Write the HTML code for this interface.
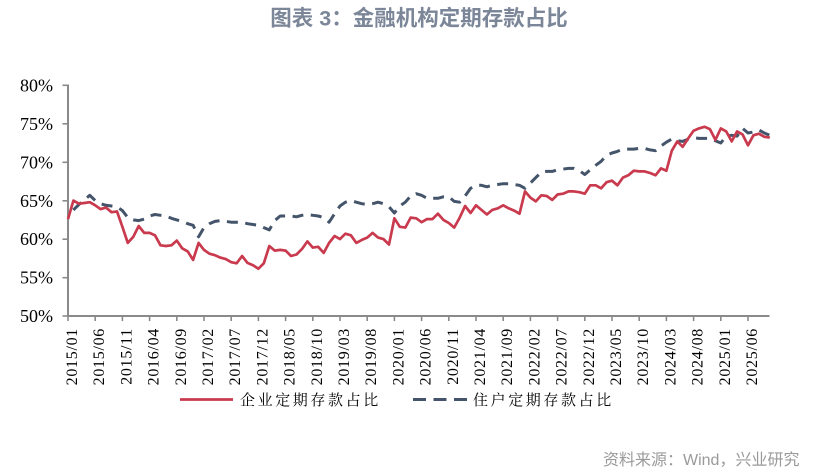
<!DOCTYPE html>
<html>
<head>
<meta charset="utf-8">
<style>
  html,body{margin:0;padding:0;background:#fff;}
  body{width:826px;height:472px;overflow:hidden;}
  svg{display:block;}
  .yl{font-family:"Liberation Serif","Noto Serif CJK SC",serif;font-size:18px;fill:#000;}
  .xl{font-family:"Liberation Serif","Noto Serif CJK SC",serif;font-size:16px;fill:#000;letter-spacing:0.7px;}
  .lg{font-family:"Liberation Serif","Noto Serif CJK SC",serif;font-size:15px;fill:#000;letter-spacing:2.6px;}
  .tt{font-family:"Liberation Sans","Noto Sans CJK SC",sans-serif;font-size:21.5px;font-weight:bold;fill:#7b8698;}
  .src{font-family:"Liberation Sans","Noto Sans CJK SC",sans-serif;font-size:16px;fill:#9a9a9a;}
</style>
</head>
<body>
<svg width="826" height="472" viewBox="0 0 826 472" xmlns="http://www.w3.org/2000/svg">
  <rect width="826" height="472" fill="#fff"/>
  <!-- title -->
  <text class="tt" x="419" y="25.5" text-anchor="middle">图表 3：金融机构定期存款占比</text>

  <!-- y axis -->
  <line x1="68" y1="84.5" x2="68" y2="317" stroke="#8a8a8a" stroke-width="2"/>
  <g stroke="#8a8a8a" stroke-width="1.6">
    <line x1="62.5" y1="85.3" x2="68" y2="85.3"/>
    <line x1="62.5" y1="123.8" x2="68" y2="123.8"/>
    <line x1="62.5" y1="162.3" x2="68" y2="162.3"/>
    <line x1="62.5" y1="200.8" x2="68" y2="200.8"/>
    <line x1="62.5" y1="239.2" x2="68" y2="239.2"/>
    <line x1="62.5" y1="277.7" x2="68" y2="277.7"/>
    <line x1="62.5" y1="316" x2="68" y2="316"/>
  </g>
  <g class="yl" text-anchor="end">
    <text x="53" y="91.3">80%</text>
    <text x="53" y="129.8">75%</text>
    <text x="53" y="168.3">70%</text>
    <text x="53" y="206.8">65%</text>
    <text x="53" y="245.2">60%</text>
    <text x="53" y="283.7">55%</text>
    <text x="53" y="322">50%</text>
  </g>

  <!-- x axis -->
  <line x1="67" y1="316" x2="769.5" y2="316" stroke="#8a8a8a" stroke-width="2"/>
  <g stroke="#8a8a8a" stroke-width="1.6">
    <line x1="68" y1="316" x2="68" y2="321"/>
    <line x1="95.2" y1="316" x2="95.2" y2="321"/>
    <line x1="122.4" y1="316" x2="122.4" y2="321"/>
    <line x1="149.6" y1="316" x2="149.6" y2="321"/>
    <line x1="176.8" y1="316" x2="176.8" y2="321"/>
    <line x1="204" y1="316" x2="204" y2="321"/>
    <line x1="231.2" y1="316" x2="231.2" y2="321"/>
    <line x1="258.4" y1="316" x2="258.4" y2="321"/>
    <line x1="285.6" y1="316" x2="285.6" y2="321"/>
    <line x1="312.8" y1="316" x2="312.8" y2="321"/>
    <line x1="340" y1="316" x2="340" y2="321"/>
    <line x1="367.2" y1="316" x2="367.2" y2="321"/>
    <line x1="394.4" y1="316" x2="394.4" y2="321"/>
    <line x1="421.6" y1="316" x2="421.6" y2="321"/>
    <line x1="448.8" y1="316" x2="448.8" y2="321"/>
    <line x1="476" y1="316" x2="476" y2="321"/>
    <line x1="503.2" y1="316" x2="503.2" y2="321"/>
    <line x1="530.4" y1="316" x2="530.4" y2="321"/>
    <line x1="557.6" y1="316" x2="557.6" y2="321"/>
    <line x1="584.8" y1="316" x2="584.8" y2="321"/>
    <line x1="612" y1="316" x2="612" y2="321"/>
    <line x1="639.2" y1="316" x2="639.2" y2="321"/>
    <line x1="666.4" y1="316" x2="666.4" y2="321"/>
    <line x1="693.6" y1="316" x2="693.6" y2="321"/>
    <line x1="720.8" y1="316" x2="720.8" y2="321"/>
    <line x1="748" y1="316" x2="748" y2="321"/>
  </g>
  <g class="xl" text-anchor="end">
    <text transform="translate(77,328) rotate(-90)">2015/01</text>
    <text transform="translate(104.2,328) rotate(-90)">2015/06</text>
    <text transform="translate(131.4,328) rotate(-90)">2015/11</text>
    <text transform="translate(158.6,328) rotate(-90)">2016/04</text>
    <text transform="translate(185.8,328) rotate(-90)">2016/09</text>
    <text transform="translate(213,328) rotate(-90)">2017/02</text>
    <text transform="translate(240.2,328) rotate(-90)">2017/07</text>
    <text transform="translate(267.4,328) rotate(-90)">2017/12</text>
    <text transform="translate(294.6,328) rotate(-90)">2018/05</text>
    <text transform="translate(321.8,328) rotate(-90)">2018/10</text>
    <text transform="translate(349,328) rotate(-90)">2019/03</text>
    <text transform="translate(376.2,328) rotate(-90)">2019/08</text>
    <text transform="translate(403.4,328) rotate(-90)">2020/01</text>
    <text transform="translate(430.6,328) rotate(-90)">2020/06</text>
    <text transform="translate(457.8,328) rotate(-90)">2020/11</text>
    <text transform="translate(485,328) rotate(-90)">2021/04</text>
    <text transform="translate(512.2,328) rotate(-90)">2021/09</text>
    <text transform="translate(539.4,328) rotate(-90)">2022/02</text>
    <text transform="translate(566.6,328) rotate(-90)">2022/07</text>
    <text transform="translate(593.8,328) rotate(-90)">2022/12</text>
    <text transform="translate(621,328) rotate(-90)">2023/05</text>
    <text transform="translate(648.2,328) rotate(-90)">2023/10</text>
    <text transform="translate(675.4,328) rotate(-90)">2024/03</text>
    <text transform="translate(702.6,328) rotate(-90)">2024/08</text>
    <text transform="translate(729.8,328) rotate(-90)">2025/01</text>
    <text transform="translate(757,328) rotate(-90)">2025/06</text>
  </g>

  <!-- household series (dashed) -->
  <polyline fill="none" stroke="#44546a" stroke-width="3" stroke-dasharray="11 7.5" stroke-dashoffset="11" stroke-linejoin="round"
    points="68,215.3 73.4,209.9 78.9,204.5 84.3,199.9 89.8,195.3 95.2,200.6 100.6,203.7 106.1,205.3 111.5,206.0 117.0,206.8 122.4,210.6 127.8,217.6 133.3,219.9 138.7,220.6 144.2,219.1 149.6,216.0 155.0,214.5 160.5,215.3 165.9,216.0 171.4,218.3 176.8,219.9 182.2,221.4 187.7,223.7 193.1,225.3 198.6,236.8 204.0,227.6 209.4,223.7 214.9,221.4 220.3,220.6 225.8,221.4 231.2,222.2 236.6,222.2 242.1,222.2 247.5,223.7 253.0,224.5 258.4,225.3 263.8,227.6 269.3,229.9 274.7,220.6 280.2,216.0 285.6,216.0 291.0,216.0 296.5,216.8 301.9,215.3 307.4,214.5 312.8,215.3 318.2,216.0 323.7,217.6 329.1,222.2 334.6,213.7 340.0,206.0 345.4,202.2 350.9,200.6 356.3,202.2 361.8,203.7 367.2,204.5 372.6,203.7 378.1,202.2 383.5,203.7 389.0,206.8 394.4,213.0 399.8,206.0 405.3,202.2 410.7,196.0 416.2,193.7 421.6,195.3 427.0,198.3 432.5,198.3 437.9,198.3 443.4,196.8 448.8,196.8 454.2,201.4 459.7,202.2 465.1,196.0 470.6,188.3 476.0,185.3 481.4,185.3 486.9,186.8 492.3,185.3 497.8,184.5 503.2,183.7 508.6,183.7 514.1,184.5 519.5,185.3 525.0,188.3 530.4,183.0 535.8,177.6 541.3,172.2 546.7,171.4 552.2,171.4 557.6,169.9 563.0,169.1 568.5,168.4 573.9,168.4 579.4,170.7 584.8,174.5 590.2,169.9 595.7,165.3 601.1,161.4 606.6,155.3 612.0,153.0 617.4,151.4 622.9,149.1 628.3,149.1 633.8,149.1 639.2,148.4 644.6,148.4 650.1,149.9 655.5,150.7 661.0,146.0 666.4,142.2 671.8,139.1 677.3,140.7 682.7,141.4 688.2,139.1 693.6,137.6 699.0,138.4 704.5,138.4 709.9,138.4 715.4,140.7 720.8,143.0 726.2,136.1 731.7,135.3 737.1,136.1 742.6,128.4 748.0,133.0 753.4,132.0 758.9,130.0 764.3,133.0 769.8,135.3"/>

  <!-- corporate series (solid) -->
  <polyline fill="none" stroke="#c93a4e" stroke-width="2.7" stroke-linejoin="round"
    points="68,219.1 73.4,200.6 78.9,203.7 84.3,203.0 89.8,202.2 95.2,205.3 100.6,209.1 106.1,207.6 111.5,212.2 117.0,211.4 122.4,226.8 127.8,242.9 133.3,236.8 138.7,226.0 144.2,232.9 149.6,232.9 155.0,235.3 160.5,245.3 165.9,246.0 171.4,245.3 176.8,240.6 182.2,248.3 187.7,251.4 193.1,259.9 198.6,242.9 204.0,249.9 209.4,253.7 214.9,255.2 220.3,257.6 225.8,259.1 231.2,262.2 236.6,263.3 242.1,256.0 247.5,262.9 253.0,265.2 258.4,268.7 263.8,263.3 269.3,246.0 274.7,250.6 280.2,249.9 285.6,250.6 291.0,256.0 296.5,254.5 301.9,249.1 307.4,241.4 312.8,247.6 318.2,246.8 323.7,252.9 329.1,242.9 334.6,236.0 340.0,239.1 345.4,233.7 350.9,235.3 356.3,242.9 361.8,239.9 367.2,237.6 372.6,232.9 378.1,237.6 383.5,239.1 389.0,244.5 394.4,218.3 399.8,226.8 405.3,227.6 410.7,217.6 416.2,218.3 421.6,222.2 427.0,219.1 432.5,219.1 437.9,213.7 443.4,219.9 448.8,223.0 454.2,227.6 459.7,217.6 465.1,206.0 470.6,213.0 476.0,205.3 481.4,209.9 486.9,214.5 492.3,209.9 497.8,208.3 503.2,205.3 508.6,208.3 514.1,210.6 519.5,213.7 525.0,191.4 530.4,197.6 535.8,201.4 541.3,195.3 546.7,196.0 552.2,199.9 557.6,194.5 563.0,193.7 568.5,191.4 573.9,191.4 579.4,192.2 584.8,193.7 590.2,185.3 595.7,185.3 601.1,188.3 606.6,182.2 612.0,180.7 617.4,185.3 622.9,177.6 628.3,175.3 633.8,170.7 639.2,171.4 644.6,171.4 650.1,173.0 655.5,175.3 661.0,168.4 666.4,170.7 671.8,150.7 677.3,141.4 682.7,146.8 688.2,138.4 693.6,130.7 699.0,128.4 704.5,126.8 709.9,129.1 715.4,139.9 720.8,128.4 726.2,131.4 731.7,141.4 737.1,131.4 742.6,134.5 748.0,145.3 753.4,135.3 758.9,133.7 764.3,136.8 769.8,137.6"/>

  <!-- legend -->
  <line x1="180" y1="399.5" x2="233" y2="399.5" stroke="#c93a4e" stroke-width="2.8"/>
  <text class="lg" x="240" y="405">企业定期存款占比</text>
  <line x1="413" y1="399.5" x2="468" y2="399.5" stroke="#44546a" stroke-width="3" stroke-dasharray="13 7.5"/>
  <text class="lg" x="473" y="405">住户定期存款占比</text>

  <!-- source -->
  <text class="src" x="603" y="465">资料来源：Wind，兴业研究</text>
</svg>
</body>
</html>
